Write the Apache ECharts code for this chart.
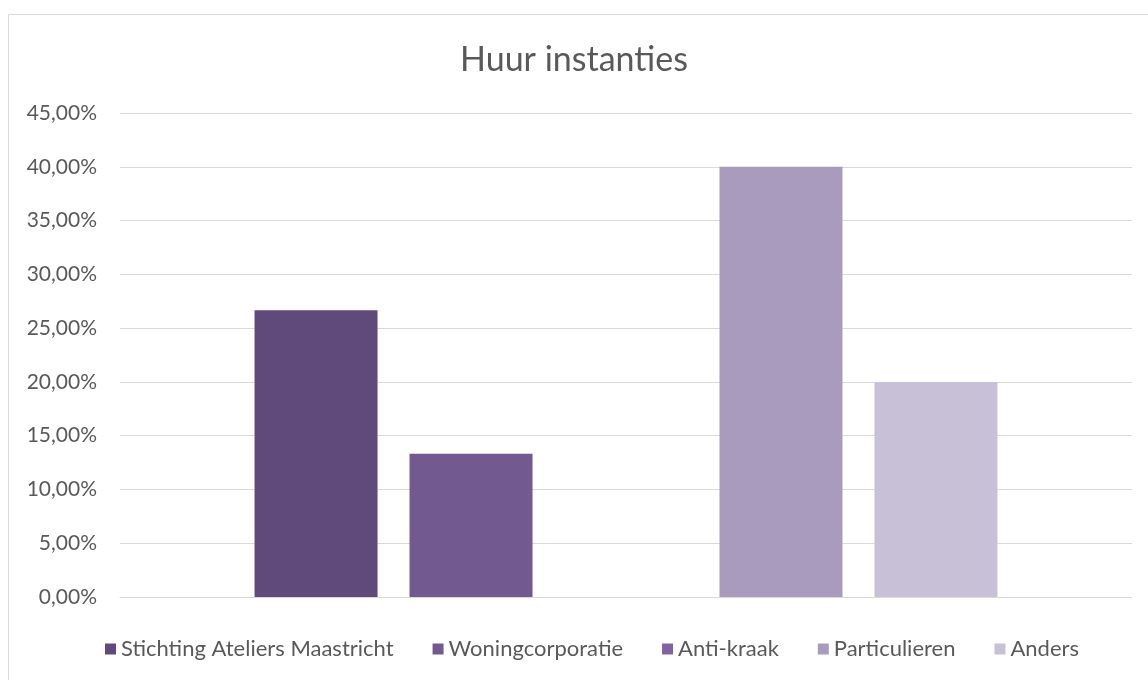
<!DOCTYPE html>
<html>
<head>
<meta charset="utf-8">
<script src="https://cdn.jsdelivr.net/npm/echarts@6/dist/echarts.min.js"></script>
<style>
  html, body { margin: 0; padding: 0; background: #fff; }
  #chart { width: 1148px; height: 680px; }
</style>
</head>
<body>
<div id="chart"></div>
<script>
// data
const categories = ['Huur']
const seriesNames = ['Stichting Ateliers Maastricht', 'Woningcorporatie', 'Anti-kraak', 'Particulieren', 'Anders']
const seriesValues = [26.67, 13.33, 0, 40.0, 20.0]
const seriesColors = ['#604a7b', '#72598f', '#8064a2', '#a99bbd', '#c8c0d7']

const fontFamily = 'Lato, "Open Sans", sans-serif'

const chart = echarts.init(document.getElementById('chart'))

const option = {
  animation: false,
  title: {
    text: 'Huur instanties',
    left: 'center',
    top: 38,
    textStyle: {
      fontFamily: fontFamily,
      fontSize: 34,
      fontWeight: 'normal',
      color: '#595959'
    }
  },
  graphic: [
    {
      type: 'rect',
      shape: { x: 8.5, y: 14.5, width: 1160, height: 700 },
      style: { fill: 'none', stroke: '#d9d9d9', lineWidth: 1 },
      silent: true
    }
  ],
  legend: {
    bottom: 15,
    left: 100,
    icon: 'rect',
    itemWidth: 11,
    itemHeight: 11,
    itemGap: 39,
    textStyle: {
      fontFamily: fontFamily,
      fontSize: 22,
      color: '#595959'
    },
    data: seriesNames
  },
  grid: {
    left: 120,
    right: 16,
    top: 113,
    bottom: 83
  },
  xAxis: {
    type: 'category',
    data: categories,
    axisLine: { show: true, lineStyle: { color: '#d9d9d9', width: 1 } },
    axisTick: { show: false },
    axisLabel: { show: false }
  },
  yAxis: {
    type: 'value',
    min: 0,
    max: 45,
    interval: 5,
    axisLine: { show: false },
    axisTick: { show: false },
    axisLabel: {
      margin: 23,
      fontFamily: fontFamily,
      fontSize: 21,
      color: '#595959',
      formatter: function (v) {
        return v.toFixed(2).replace('.', ',') + '%'
      }
    },
    splitLine: { lineStyle: { color: '#d9d9d9', width: 1 } }
  },
  series: seriesNames.map(function (name, i) {
    return {
      name: name,
      type: 'bar',
      data: [seriesValues[i]],
      barWidth: 123,
      barGap: '26%',
      itemStyle: { color: seriesColors[i] }
    }
  })
}

chart.setOption(option)
</script>
</body>
</html>
